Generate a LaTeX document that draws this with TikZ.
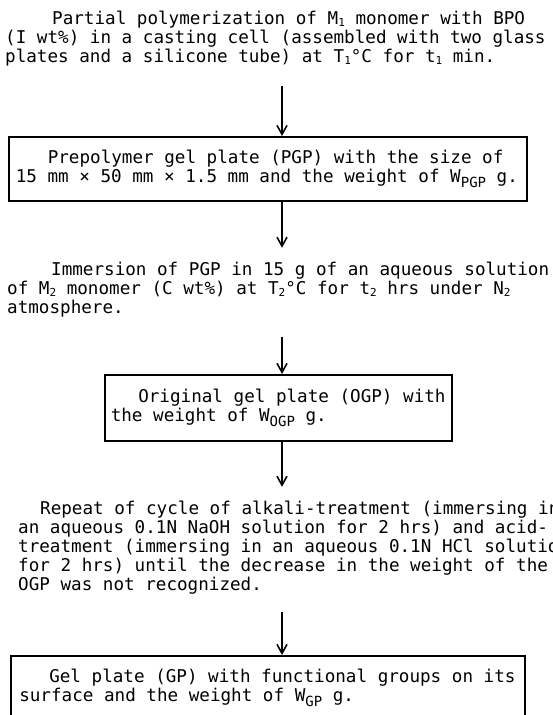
\documentclass[tikz,border=0pt]{standalone}
\usepackage{fontspec}
\setmonofont[WordSpace={1,0,0}]{DejaVu Sans Mono}
\usetikzlibrary{arrows.meta}
\newcommand{\lo}[1]{\raisebox{-2.5pt}{\fontsize{11}{11}\selectfont #1}}
\newcommand{\wsub}[1]{\raisebox{-5pt}{\fontsize{14}{14}\selectfont #1}}
\newcommand{\fixsp}{\spaceskip=\fontdimen2\font\xspaceskip=\fontdimen2\font\relax}
\begin{document}
\begin{tikzpicture}[x=1pt,y=-1pt,
    every node/.style={font=\ttfamily\fontsize{17.6}{19}\selectfont},
    stage/.style={anchor=north west,inner sep=0pt,align=left},
    plate/.style={draw,line width=1.6pt,anchor=north west,align=left,inner ysep=0pt,
        execute at begin node=\fixsp},
    flow/.style={line width=1.6pt,-{Straight Barb[length=9pt,width=10pt]}}]
    \useasboundingbox (0,0) rectangle (552,715);
    \coordinate (axis) at (282,0);
    \node[stage] (poly) at (5,10.8) {\hspace*{47pt}Partial polymerization of M\lo{1} monomer with BPO\\
        (I wt\%) in a casting cell (assembled with two glass\\
        plates and a silicone tube) at T\lo{1}°C for t\lo{1} min.};
    \node[plate,inner xsep=7pt,text width=504pt,minimum height=64pt] (pgp) at (8,136) {\hspace*{32pt}Prepolymer gel plate (PGP) with the size of\\
        15 mm × 50 mm × 1.5 mm and the weight of W\wsub{PGP} g.};
    \node[stage] (immerse) at (7,261.8) {\hspace*{44pt}Immersion of PGP in 15 g of an aqueous solution\\
        of M\lo{2} monomer (C wt\%) at T\lo{2}°C for t\lo{2} hrs under N\lo{2}\\
        atmosphere.};
    \node[plate,inner xsep=6pt,text width=335pt,minimum height=66pt] (ogp) at (104,374) {\hspace*{27.5pt}Original gel plate (OGP) with\\
        the weight of W\wsub{OGP} g.};
    \node[stage] (cycle) at (18,500.8) {\hspace*{22pt}Repeat of cycle of alkali-treatment (immersing in\\
        an aqueous 0.1N NaOH solution for 2 hrs) and acid-\\
        treatment (immersing in an aqueous 0.1N HCl solution\\
        for 2 hrs) until the decrease in the weight of the\\
        OGP was not recognized.};
    \node[plate,inner xsep=8.5pt,text width=497pt,minimum height=64pt] (gp) at (10,655) {\hspace*{30pt}Gel plate (GP) with functional groups on its\\
        surface and the weight of W\wsub{GP} g.};
    \draw[flow,shorten <=20pt] (poly.south -| axis) -- (pgp.north -| axis);
    \draw[flow,shorten >=14pt] (pgp.south -| axis) -- (immerse.north -| axis);
    \draw[flow,shorten <=20pt] (immerse.south -| axis) -- (ogp.north -| axis);
    \draw[flow,shorten >=14pt] (ogp.south -| axis) -- (cycle.north -| axis);
    \draw[flow,shorten <=18pt] (cycle.south -| axis) -- (gp.north -| axis);
\end{tikzpicture}
\end{document}
